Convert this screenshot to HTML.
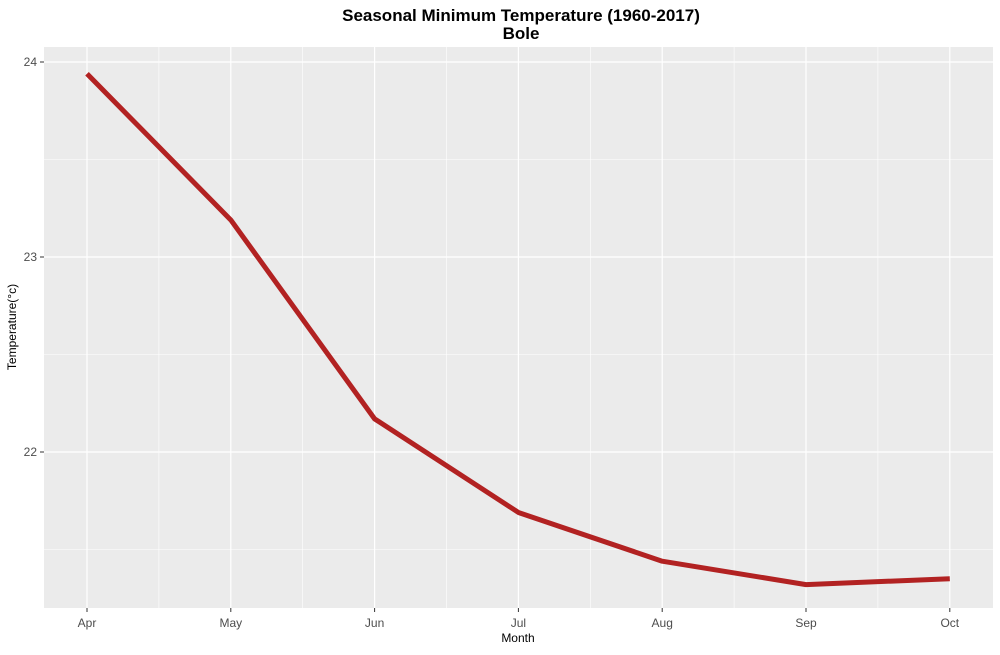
<!DOCTYPE html>
<html><head><meta charset="utf-8"><style>
body{margin:0;background:#fff;font-family:"Liberation Sans",sans-serif;}
</style></head><body>
<svg id="chart" width="1000" height="650" xmlns="http://www.w3.org/2000/svg">
<text x="521" y="21" text-anchor="middle" font-size="17" font-weight="bold" font-family="Liberation Sans, sans-serif">Seasonal Minimum Temperature (1960-2017)</text>
<text x="521" y="39" text-anchor="middle" font-size="17" font-weight="bold" font-family="Liberation Sans, sans-serif">Bole</text>
<rect x="44" y="47" width="949" height="561" fill="#ebebeb"/>
<g id="grid"></g>
<g id="series"></g>
<g id="axes"></g>
<text x="518" y="642" text-anchor="middle" font-size="12" font-family="Liberation Sans, sans-serif">Month</text>
<text transform="translate(16,327) rotate(-90)" text-anchor="middle" font-size="12" font-family="Liberation Sans, sans-serif">Temperature(°c)</text>
</svg>
<script>
const months = ["Apr","May","Jun","Jul","Aug","Sep","Oct"];
const temps = [23.94, 23.19, 22.17, 21.69, 21.44, 21.32, 21.35];
const yTicks = [22, 23, 24];
const yMinor = [21.5, 22.5, 23.5];
const NS="http://www.w3.org/2000/svg";
const x0=87, xStep=143.8;
function xs(i){return x0+i*xStep;}
function ys(v){return 257-(v-23)*195;}
const L=44,R=993,T=47,B=608;
const grid=document.getElementById('grid'), axes=document.getElementById('axes'), ser=document.getElementById('series');
function el(tag,attrs,parent){const e=document.createElementNS(NS,tag);for(const k in attrs)e.setAttribute(k,attrs[k]);parent.appendChild(e);return e;}
yMinor.forEach(v=>{const l=el('line',{x1:L,x2:R,y1:ys(v),y2:ys(v),stroke:'#fff','stroke-width':0.6},grid);

});
for(let i=0;i<months.length-1;i++){const xm=(xs(i)+xs(i+1))/2;const l=el('line',{x1:xm,x2:xm,y1:T,y2:B,stroke:'#fff','stroke-width':0.6},grid);

}
yTicks.forEach(v=>{const y=ys(v);const l=el('line',{x1:L,x2:R,y1:y,y2:y,stroke:'#fff','stroke-width':1.2},grid);


const t=el('line',{x1:L-4,x2:L,y1:y,y2:y,stroke:'#333','stroke-width':1},axes);


const tx=el('text',{x:L-7,y:y+4,'text-anchor':'end','font-size':12,fill:'#4d4d4d','font-family':'Liberation Sans, sans-serif'},axes);tx.textContent=v;

});
months.forEach((m,i)=>{const x=xs(i);const l=el('line',{x1:x,x2:x,y1:T,y2:B,stroke:'#fff','stroke-width':1.2},grid);


const t=el('line',{x1:x,x2:x,y1:B,y2:B+4,stroke:'#333','stroke-width':1},axes);


const tx=el('text',{x:x,y:B+19,'text-anchor':'middle','font-size':12,fill:'#4d4d4d','font-family':'Liberation Sans, sans-serif'},axes);tx.textContent=m;

});
const pts=temps.map((v,i)=>xs(i)+','+ys(v)).join(' ');
const line=el('polyline',{points:pts,fill:'none',stroke:'#b22222','stroke-width':5,'stroke-linejoin':'round'},ser);


</script>
</body></html>
